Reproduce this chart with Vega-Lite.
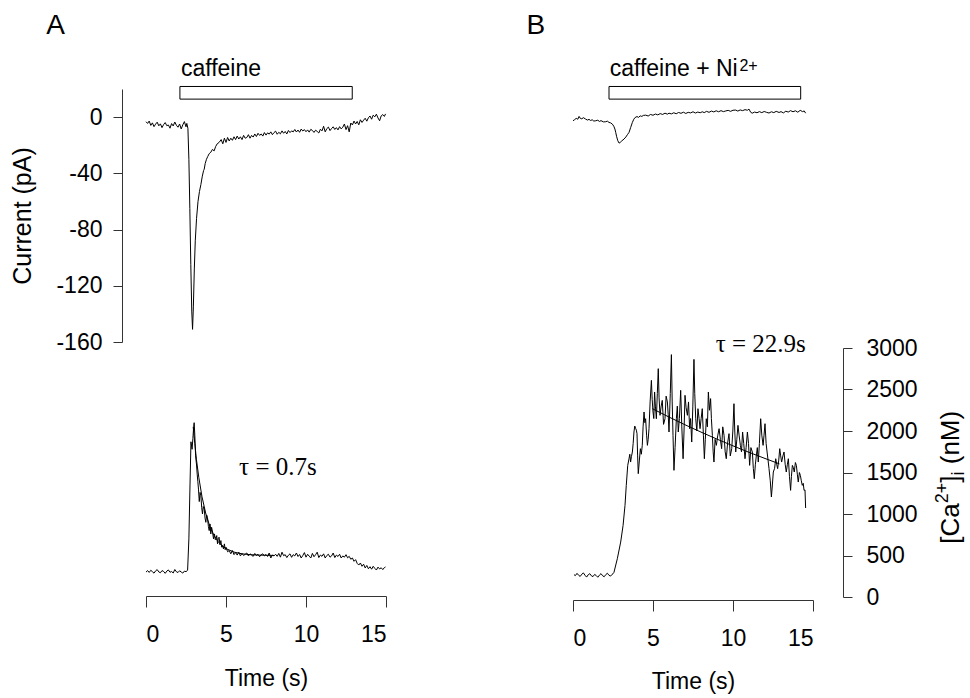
{
  "$schema": "https://vega.github.io/schema/vega-lite/v6.json",
  "autosize": {"type": "pad"},
  "padding": {"left": 10, "top": 12, "right": 4, "bottom": 4},
  "background": "white",
  "config": {
    "view": {"stroke": null},
    "font": "Liberation Sans",
    "axis": {
      "grid": false,
      "domainColor": "#333333",
      "tickColor": "#333333",
      "labelColor": "black",
      "titleColor": "black",
      "labelFontSize": 23,
      "titleFontSize": 23,
      "titleFontWeight": "normal",
      "labelFont": "Liberation Sans",
      "titleFont": "Liberation Sans",
      "domainWidth": 1,
      "tickWidth": 1,
      "labelExpr": "'' + datum.value"
    }
  },
  "datasets": {
    "aCur": [
      {"t":0.0,"v":-3.3},{"t":0.1,"v":-4.5},{"t":0.2,"v":-2.8},{"t":0.3,"v":-5.9},{"t":0.4,"v":-4.1},{"t":0.5,"v":-6.8},{"t":0.6,"v":-5.0},{"t":0.7,"v":-3.6},{"t":0.8,"v":-6.2},{"t":0.9,"v":-4.8},
      {"t":1.0,"v":-7.5},{"t":1.1,"v":-5.3},{"t":1.2,"v":-3.9},{"t":1.3,"v":-6.1},{"t":1.4,"v":-5.6},{"t":1.5,"v":-7.9},{"t":1.6,"v":-4.6},{"t":1.7,"v":-6.3},{"t":1.8,"v":-3.5},{"t":1.9,"v":-5.8},
      {"t":2.0,"v":-7.2},{"t":2.1,"v":-4.9},{"t":2.2,"v":-8.4},{"t":2.3,"v":-5.5},{"t":2.4,"v":-3.2},{"t":2.5,"v":-6.9},{"t":2.55,"v":-4.5},
      {"t":2.62,"v":-8},{"t":2.68,"v":-30},{"t":2.74,"v":-65},{"t":2.8,"v":-105},{"t":2.86,"v":-138},{"t":2.91,"v":-151},{"t":2.96,"v":-135},{"t":3.02,"v":-108},{"t":3.08,"v":-88},
      {"t":3.16,"v":-72},{"t":3.25,"v":-60},{"t":3.34,"v":-53},{"t":3.43,"v":-48},{"t":3.52,"v":-42},{"t":3.6,"v":-38},{"t":3.64,"v":-37},{"t":3.7,"v":-33},{"t":3.78,"v":-30},{"t":3.86,"v":-28},
      {"t":3.95,"v":-26},{"t":4.05,"v":-25},{"t":4.15,"v":-23},{"t":4.26,"v":-24},{"t":4.35,"v":-21},{"t":4.45,"v":-19},{"t":4.57,"v":-18},
      {"t":4.7,"v":-16},{"t":4.8,"v":-19},{"t":4.9,"v":-15},{"t":5.0,"v":-18},{"t":5.1,"v":-14.5},{"t":5.2,"v":-17},{"t":5.3,"v":-15},{"t":5.4,"v":-16.5},{"t":5.5,"v":-14},{"t":5.6,"v":-16},
      {"t":5.7,"v":-13.5},{"t":5.8,"v":-15.6},{"t":5.9,"v":-14},{"t":6.0,"v":-16},{"t":6.1,"v":-13},{"t":6.2,"v":-15},{"t":6.3,"v":-14.5},{"t":6.4,"v":-12.5},{"t":6.5,"v":-15},{"t":6.6,"v":-13},
      {"t":6.7,"v":-14.2},{"t":6.8,"v":-12},{"t":6.9,"v":-13.8},{"t":7.0,"v":-11.5},{"t":7.1,"v":-13},{"t":7.2,"v":-12},{"t":7.3,"v":-13.5},{"t":7.4,"v":-11},{"t":7.5,"v":-12.8},{"t":7.6,"v":-11.2},
      {"t":7.7,"v":-12.1},{"t":7.8,"v":-10.5},{"t":7.9,"v":-12.5},{"t":8.0,"v":-11},{"t":8.1,"v":-10},{"t":8.2,"v":-12.2},{"t":8.3,"v":-10.8},{"t":8.4,"v":-11.9},{"t":8.5,"v":-9.8},{"t":8.6,"v":-11.5},
      {"t":8.7,"v":-10.2},{"t":8.8,"v":-12},{"t":8.9,"v":-9.5},{"t":9.0,"v":-11},{"t":9.1,"v":-9.8},{"t":9.2,"v":-10.5},{"t":9.3,"v":-8.8},{"t":9.4,"v":-10.6},{"t":9.5,"v":-9.2},{"t":9.6,"v":-10.8},
      {"t":9.7,"v":-8.5},{"t":9.8,"v":-9.9},{"t":9.9,"v":-8.9},{"t":10.0,"v":-10.4},{"t":10.1,"v":-9.1},{"t":10.2,"v":-10.7},{"t":10.3,"v":-8.7},{"t":10.4,"v":-9.5},{"t":10.5,"v":-10.9},{"t":10.6,"v":-9.3},
      {"t":10.7,"v":-10.2},{"t":10.8,"v":-11.3},{"t":10.9,"v":-8.6},{"t":11.0,"v":-9.8},{"t":11.1,"v":-6.5},{"t":11.2,"v":-10.5},{"t":11.3,"v":-8.2},{"t":11.4,"v":-7.1},{"t":11.5,"v":-9.6},{"t":11.6,"v":-8.1},
      {"t":11.7,"v":-6.9},{"t":11.8,"v":-8.8},{"t":11.9,"v":-7.5},{"t":12.0,"v":-9.1},{"t":12.1,"v":-6.8},{"t":12.2,"v":-8.4},{"t":12.3,"v":-7.2},{"t":12.4,"v":-4.9},{"t":12.5,"v":-8.9},{"t":12.6,"v":-6.1},
      {"t":12.7,"v":-10.5},{"t":12.8,"v":-4.2},{"t":12.9,"v":-5.6},{"t":13.0,"v":-2.8},{"t":13.1,"v":-4.9},{"t":13.2,"v":-3.1},{"t":13.3,"v":-5.5},{"t":13.4,"v":-1.9},{"t":13.5,"v":-3.8},{"t":13.6,"v":-2.2},
      {"t":13.7,"v":-0.8},{"t":13.8,"v":-2.9},{"t":13.9,"v":-0.5},{"t":14.0,"v":0.8},{"t":14.1,"v":-1.5},{"t":14.2,"v":1.4},{"t":14.3,"v":0.2},{"t":14.4,"v":2.1},{"t":14.5,"v":-0.6},{"t":14.6,"v":-2.6},
      {"t":14.7,"v":0.9},{"t":14.8,"v":1.8},{"t":14.9,"v":0.5},{"t":14.97,"v":2.3}
    ],
    "bCur": [
      {"t":0.0,"v":-2.6},{"t":0.1,"v":-1.8},{"t":0.2,"v":-0.9},{"t":0.3,"v":-1.5},{"t":0.38,"v":0.5},{"t":0.45,"v":-0.8},{"t":0.55,"v":-1.2},{"t":0.65,"v":-0.4},{"t":0.79,"v":-1.4},{"t":0.9,"v":-2.1},
      {"t":1.0,"v":-1.6},{"t":1.1,"v":-2.4},{"t":1.2,"v":-1.9},{"t":1.3,"v":-2.8},{"t":1.42,"v":-2.6},{"t":1.55,"v":-2.2},{"t":1.65,"v":-3.1},{"t":1.75,"v":-2.5},{"t":1.9,"v":-3.4},{"t":2.04,"v":-3.3},
      {"t":2.15,"v":-2.9},{"t":2.25,"v":-3.8},{"t":2.35,"v":-4.1},{"t":2.46,"v":-5.0},{"t":2.55,"v":-6.5},{"t":2.62,"v":-8.5},{"t":2.67,"v":-10.9},{"t":2.73,"v":-14},{"t":2.8,"v":-16.8},{"t":2.88,"v":-18.5},
      {"t":2.95,"v":-18.0},{"t":3.05,"v":-16.9},{"t":3.19,"v":-15.6},{"t":3.3,"v":-14.2},{"t":3.4,"v":-12.5},{"t":3.5,"v":-10.9},{"t":3.6,"v":-7.5},{"t":3.71,"v":-3.8},{"t":3.8,"v":-1.5},{"t":3.88,"v":-0.3},
      {"t":4.0,"v":0.4},{"t":4.1,"v":-0.2},{"t":4.2,"v":0.9},{"t":4.3,"v":0.5},{"t":4.4,"v":1.2},{"t":4.54,"v":1.4},{"t":4.7,"v":0.8},{"t":4.85,"v":1.9},{"t":5.0,"v":1.3},{"t":5.15,"v":2.2},
      {"t":5.3,"v":1.6},{"t":5.45,"v":2.5},{"t":5.6,"v":1.9},{"t":5.75,"v":2.8},{"t":5.9,"v":2.1},{"t":6.0,"v":2.8},{"t":6.15,"v":2.3},{"t":6.3,"v":3.1},{"t":6.45,"v":2.4},{"t":6.6,"v":3.3},
      {"t":6.75,"v":2.7},{"t":6.9,"v":3.5},{"t":7.05,"v":2.6},{"t":7.2,"v":3.4},{"t":7.35,"v":3.0},{"t":7.5,"v":3.8},{"t":7.65,"v":2.9},{"t":7.8,"v":3.6},{"t":7.95,"v":3.1},{"t":8.08,"v":3.8},
      {"t":8.2,"v":3.2},{"t":8.35,"v":4.1},{"t":8.5,"v":3.4},{"t":8.65,"v":4.3},{"t":8.8,"v":3.7},{"t":8.95,"v":4.5},{"t":9.1,"v":3.8},{"t":9.25,"v":4.6},{"t":9.4,"v":3.9},{"t":9.55,"v":4.4},
      {"t":9.7,"v":4.8},{"t":9.85,"v":4.1},{"t":10.0,"v":4.9},{"t":10.17,"v":5.0},{"t":10.3,"v":4.3},{"t":10.45,"v":5.1},{"t":10.6,"v":4.6},{"t":10.75,"v":5.3},{"t":10.9,"v":4.9},{"t":11.0,"v":5.7},
      {"t":11.1,"v":3.5},{"t":11.2,"v":2.8},{"t":11.35,"v":3.6},{"t":11.5,"v":3.1},{"t":11.65,"v":3.9},{"t":11.8,"v":3.2},{"t":11.95,"v":4.0},{"t":12.1,"v":3.4},{"t":12.25,"v":2.9},{"t":12.4,"v":3.8},
      {"t":12.55,"v":3.2},{"t":12.7,"v":4.1},{"t":12.88,"v":3.3},{"t":13.0,"v":3.9},{"t":13.15,"v":3.0},{"t":13.3,"v":4.2},{"t":13.45,"v":3.6},{"t":13.6,"v":4.6},{"t":13.75,"v":3.8},{"t":13.9,"v":4.5},
      {"t":14.05,"v":3.5},{"t":14.2,"v":4.8},{"t":14.35,"v":3.9},{"t":14.45,"v":4.4},{"t":14.54,"v":2.8}
    ],
    "aCa": [
      {"t":0.0,"v":300},{"t":0.1,"v":318},{"t":0.2,"v":296},{"t":0.3,"v":322},{"t":0.4,"v":305},{"t":0.5,"v":287},{"t":0.6,"v":315},{"t":0.7,"v":330},{"t":0.8,"v":302},{"t":0.9,"v":292},
      {"t":1.0,"v":318},{"t":1.1,"v":308},{"t":1.2,"v":285},{"t":1.3,"v":312},{"t":1.4,"v":326},{"t":1.5,"v":298},{"t":1.6,"v":307},{"t":1.7,"v":289},{"t":1.8,"v":331},{"t":1.9,"v":304},
      {"t":2.0,"v":295},{"t":2.1,"v":316},{"t":2.2,"v":301},{"t":2.3,"v":288},{"t":2.4,"v":312},{"t":2.5,"v":305},{"t":2.6,"v":322},
      {"t":2.68,"v":700},{"t":2.75,"v":1350},{"t":2.81,"v":1870},{"t":2.88,"v":1780},{"t":2.93,"v":1910},{"t":2.98,"v":2050},{"t":3.01,"v":2100},{"t":3.05,"v":1950},{"t":3.1,"v":1700},
      {"t":3.16,"v":1590},{"t":3.2,"v":1480},{"t":3.24,"v":1390},{"t":3.28,"v":1300},{"t":3.33,"v":1150},{"t":3.38,"v":1260},{"t":3.43,"v":1220},{"t":3.48,"v":1080},{"t":3.53,"v":1000},{"t":3.58,"v":1090},
      {"t":3.64,"v":1060},{"t":3.69,"v":950},{"t":3.74,"v":900},{"t":3.79,"v":990},{"t":3.84,"v":960},{"t":3.9,"v":850},{"t":3.95,"v":800},{"t":4.0,"v":880},{"t":4.05,"v":760},{"t":4.1,"v":840},
      {"t":4.16,"v":780},{"t":4.22,"v":700},{"t":4.28,"v":760},{"t":4.33,"v":690},{"t":4.37,"v":700},{"t":4.42,"v":740},{"t":4.47,"v":640},{"t":4.52,"v":710},{"t":4.57,"v":720},{"t":4.62,"v":630},
      {"t":4.68,"v":680},{"t":4.73,"v":600},{"t":4.78,"v":620},{"t":4.84,"v":580},{"t":4.9,"v":640},{"t":4.95,"v":570},{"t":5.0,"v":600},{"t":5.1,"v":545},{"t":5.2,"v":560},{"t":5.3,"v":520},
      {"t":5.4,"v":560},{"t":5.5,"v":510},{"t":5.6,"v":535},{"t":5.7,"v":505},{"t":5.8,"v":540},{"t":5.9,"v":495},{"t":6.0,"v":525},{"t":6.1,"v":500},{"t":6.2,"v":515},{"t":6.3,"v":530},
      {"t":6.4,"v":495},{"t":6.5,"v":520},{"t":6.6,"v":505},{"t":6.7,"v":490},{"t":6.8,"v":525},{"t":6.9,"v":500},{"t":7.0,"v":515},{"t":7.1,"v":485},{"t":7.2,"v":510},{"t":7.3,"v":520},
      {"t":7.4,"v":495},{"t":7.5,"v":512},{"t":7.6,"v":488},{"t":7.7,"v":530},{"t":7.8,"v":470},{"t":7.9,"v":505},{"t":8.0,"v":495},{"t":8.1,"v":515},{"t":8.2,"v":490},{"t":8.3,"v":525},
      {"t":8.4,"v":480},{"t":8.5,"v":540},{"t":8.6,"v":498},{"t":8.7,"v":510},{"t":8.8,"v":475},{"t":8.9,"v":503},{"t":9.0,"v":520},{"t":9.1,"v":478},{"t":9.2,"v":510},{"t":9.3,"v":495},
      {"t":9.4,"v":530},{"t":9.5,"v":488},{"t":9.6,"v":512},{"t":9.7,"v":470},{"t":9.8,"v":500},{"t":9.9,"v":535},{"t":10.0,"v":480},{"t":10.1,"v":515},{"t":10.2,"v":492},{"t":10.3,"v":470},
      {"t":10.4,"v":525},{"t":10.5,"v":485},{"t":10.6,"v":510},{"t":10.7,"v":540},{"t":10.8,"v":475},{"t":10.9,"v":505},{"t":11.0,"v":490},{"t":11.1,"v":520},{"t":11.2,"v":470},{"t":11.3,"v":500},
      {"t":11.4,"v":515},{"t":11.5,"v":480},{"t":11.6,"v":495},{"t":11.7,"v":530},{"t":11.8,"v":475},{"t":11.9,"v":505},{"t":12.0,"v":488},{"t":12.1,"v":515},{"t":12.2,"v":470},{"t":12.3,"v":495},
      {"t":12.4,"v":480},{"t":12.5,"v":510},{"t":12.6,"v":472},{"t":12.7,"v":490},{"t":12.8,"v":455},{"t":12.9,"v":470},{"t":13.0,"v":430},{"t":13.1,"v":450},{"t":13.2,"v":405},{"t":13.3,"v":385},
      {"t":13.4,"v":410},{"t":13.5,"v":370},{"t":13.6,"v":395},{"t":13.7,"v":350},{"t":13.8,"v":380},{"t":13.9,"v":340},{"t":14.0,"v":365},{"t":14.1,"v":335},{"t":14.2,"v":370},{"t":14.3,"v":345},
      {"t":14.4,"v":325},{"t":14.5,"v":360},{"t":14.6,"v":338},{"t":14.7,"v":352},{"t":14.8,"v":330},{"t":14.9,"v":355},{"t":14.97,"v":362}
    ],
    "aFit": [
      {"t":2.95,"v":2050},{"t":3.05,"v":1850},{"t":3.15,"v":1660},{"t":3.3,"v":1441},{"t":3.5,"v":1207},{"t":3.75,"v":994},{"t":4.0,"v":846},{"t":4.25,"v":742},{"t":4.5,"v":669},{"t":4.75,"v":618},
      {"t":5.0,"v":583},{"t":5.5,"v":541},{"t":6.0,"v":520},{"t":6.5,"v":510},{"t":7.0,"v":505},{"t":8.0,"v":501}
    ],
    "bCa": [
      {"t":0.06,"v":269},{"t":0.15,"v":258},{"t":0.25,"v":285},{"t":0.35,"v":262},{"t":0.45,"v":248},{"t":0.55,"v":275},{"t":0.65,"v":290},{"t":0.75,"v":262},{"t":0.85,"v":240},{"t":0.95,"v":268},
      {"t":1.05,"v":281},{"t":1.15,"v":255},{"t":1.25,"v":246},{"t":1.35,"v":272},{"t":1.45,"v":259},{"t":1.55,"v":238},{"t":1.65,"v":263},{"t":1.75,"v":282},{"t":1.85,"v":256},{"t":1.95,"v":244},
      {"t":2.05,"v":270},{"t":2.15,"v":286},{"t":2.25,"v":261},{"t":2.35,"v":252},{"t":2.42,"v":269},{"t":2.5,"v":280},
      {"t":2.56,"v":297},{"t":2.77,"v":461},{"t":2.98,"v":662},{"t":3.13,"v":863},{"t":3.25,"v":1104},{"t":3.33,"v":1345},{"t":3.42,"v":1586},
      {"t":3.5,"v":1666},{"t":3.55,"v":1720},{"t":3.6,"v":1626},{"t":3.65,"v":1690},{"t":3.71,"v":1747},{"t":3.76,"v":1850},{"t":3.81,"v":1988},{"t":3.86,"v":2060},{"t":3.92,"v":2028},{"t":3.96,"v":2010},
      {"t":4.0,"v":1968},{"t":4.04,"v":1700},{"t":4.08,"v":1486},{"t":4.15,"v":1650},{"t":4.21,"v":1787},{"t":4.27,"v":1720},{"t":4.33,"v":1827},{"t":4.38,"v":2050},{"t":4.44,"v":2229},{"t":4.49,"v":2100},
      {"t":4.54,"v":2148},{"t":4.6,"v":1950},{"t":4.65,"v":1827},{"t":4.7,"v":1900},{"t":4.75,"v":2028},{"t":4.82,"v":2350},{"t":4.9,"v":2610},{"t":4.95,"v":2380},{"t":5.0,"v":2229},{"t":5.05,"v":2150},
      {"t":5.1,"v":2470},{"t":5.15,"v":2300},{"t":5.21,"v":2148},{"t":5.27,"v":2450},{"t":5.33,"v":2751},{"t":5.38,"v":2400},{"t":5.44,"v":2189},{"t":5.51,"v":2300},{"t":5.58,"v":2369},{"t":5.66,"v":2080},
      {"t":5.75,"v":2148},{"t":5.82,"v":2420},{"t":5.9,"v":2349},{"t":5.95,"v":2200},{"t":6.0,"v":1988},{"t":6.08,"v":2450},{"t":6.15,"v":2920},{"t":6.2,"v":2350},{"t":6.25,"v":1948},{"t":6.31,"v":1526},
      {"t":6.38,"v":1800},{"t":6.46,"v":2148},{"t":6.52,"v":2300},{"t":6.58,"v":1988},{"t":6.65,"v":2150},{"t":6.73,"v":2490},{"t":6.8,"v":2050},{"t":6.88,"v":1666},{"t":6.94,"v":2000},{"t":7.0,"v":2430},
      {"t":7.07,"v":2280},{"t":7.15,"v":2189},{"t":7.22,"v":2350},{"t":7.29,"v":2028},{"t":7.35,"v":2150},{"t":7.42,"v":1867},{"t":7.49,"v":2300},{"t":7.56,"v":2863},{"t":7.61,"v":2450},{"t":7.67,"v":2148},
      {"t":7.74,"v":2000},{"t":7.81,"v":2269},{"t":7.88,"v":2150},{"t":7.94,"v":2028},{"t":8.01,"v":2150},{"t":8.08,"v":2269},{"t":8.15,"v":1950},{"t":8.21,"v":1666},{"t":8.27,"v":1900},{"t":8.33,"v":2148},
      {"t":8.4,"v":2050},{"t":8.46,"v":2470},{"t":8.53,"v":2250},{"t":8.6,"v":2390},{"t":8.65,"v":2150},{"t":8.71,"v":1948},{"t":8.76,"v":1750},{"t":8.81,"v":1626},{"t":8.88,"v":1900},{"t":8.96,"v":1827},
      {"t":9.05,"v":1950},{"t":9.13,"v":2028},{"t":9.21,"v":1900},{"t":9.29,"v":1787},{"t":9.36,"v":2050},{"t":9.44,"v":1948},{"t":9.51,"v":1750},{"t":9.58,"v":1666},{"t":9.66,"v":1850},{"t":9.75,"v":1968},
      {"t":9.83,"v":1700},{"t":9.92,"v":1787},{"t":9.99,"v":2000},{"t":10.06,"v":2329},{"t":10.11,"v":2000},{"t":10.17,"v":1747},{"t":10.24,"v":1900},{"t":10.31,"v":2068},{"t":10.38,"v":1950},{"t":10.46,"v":1827},
      {"t":10.53,"v":1750},{"t":10.6,"v":1988},{"t":10.67,"v":1850},{"t":10.75,"v":1666},{"t":10.82,"v":1800},{"t":10.9,"v":1988},{"t":10.97,"v":1850},{"t":11.04,"v":1586},{"t":11.12,"v":1800},{"t":11.21,"v":1747},
      {"t":11.27,"v":1550},{"t":11.33,"v":1425},{"t":11.4,"v":1600},{"t":11.46,"v":1707},{"t":11.52,"v":1800},{"t":11.58,"v":1626},{"t":11.65,"v":1850},{"t":11.73,"v":2148},{"t":11.8,"v":1950},{"t":11.88,"v":1827},
      {"t":11.94,"v":1950},{"t":12.0,"v":2088},{"t":12.07,"v":1850},{"t":12.13,"v":1747},{"t":12.19,"v":1650},{"t":12.25,"v":1546},{"t":12.33,"v":1400},{"t":12.4,"v":1205},{"t":12.46,"v":1350},{"t":12.52,"v":1506},
      {"t":12.6,"v":1550},{"t":12.67,"v":1666},{"t":12.73,"v":1600},{"t":12.79,"v":1546},{"t":12.86,"v":1650},{"t":12.92,"v":1787},{"t":12.98,"v":1700},{"t":13.04,"v":1626},{"t":13.12,"v":1700},{"t":13.19,"v":1747},
      {"t":13.26,"v":1600},{"t":13.33,"v":1506},{"t":13.4,"v":1600},{"t":13.46,"v":1666},{"t":13.53,"v":1450},{"t":13.6,"v":1285},{"t":13.65,"v":1450},{"t":13.71,"v":1586},{"t":13.77,"v":1560},{"t":13.83,"v":1506},
      {"t":13.9,"v":1620},{"t":13.96,"v":1586},{"t":14.02,"v":1480},{"t":14.08,"v":1385},{"t":14.15,"v":1500},{"t":14.21,"v":1465},{"t":14.27,"v":1400},{"t":14.33,"v":1345},{"t":14.39,"v":1370},{"t":14.44,"v":1285},
      {"t":14.5,"v":1290},{"t":14.54,"v":1072}
    ],
    "bFit": [
      {"t":4.96,"v":2269},{"t":6.0,"v":2168},{"t":7.0,"v":2075},{"t":8.0,"v":1987},{"t":9.0,"v":1902},{"t":10.0,"v":1821},{"t":11.0,"v":1743},{"t":12.0,"v":1669},{"t":12.9,"v":1604}
    ],
    "bars": [
      {"panel":"A","t":2.12,"t2":12.89,"v":12.8,"v2":21.8},
      {"panel":"B","t":2.25,"t2":14.23,"v":12.8,"v2":21.8}
    ],
    "panelLabels": [
      {"panel":"A","t":-6.24,"v":59,"text":"A"},
      {"panel":"B","t":-2.9,"v":59,"text":"B"}
    ],
    "barLabels": [
      {"panel":"A","t":2.18,"v":29.4,"text":"caffeine"},
      {"panel":"B","t":2.29,"v":28.9,"text":"caffeine + Ni"}
    ],
    "supLabels": [
      {"panel":"B","t":10.4,"v":33,"text":"2+"}
    ],
    "tauLabels": [
      {"panel":"A","t":5.82,"v":1473,"text":"τ = 0.7s"},
      {"panel":"B","t":8.92,"v":2955,"text":"τ = 22.9s"}
    ],
    "caTitle": [
      {"kind":"main","t":24.14,"v":642,"text":"[Ca"},
      {"kind":"small","t":23.46,"v":1130,"text":"2+"},
      {"kind":"main","t":24.14,"v":1377,"text":"]"},
      {"kind":"small","t":24.43,"v":1464,"text":"i"},
      {"kind":"main","t":24.14,"v":1599,"text":"(nM)"}
    ]
  },
  "columns": 2,
  "spacing": {"row": 6, "column": 187},
  "bounds": "flush",
  "concat": [
    {
      "width": 240,
      "height": 253,
      "encoding": {
        "x": {"field": "t", "type": "quantitative", "scale": {"domain": [0, 15], "nice": false, "zero": false}, "axis": null},
        "y": {"field": "v", "type": "quantitative", "scale": {"domain": [-160, 20], "nice": false, "zero": false},
              "axis": {"orient": "left", "values": [0, -40, -80, -120, -160], "offset": 24, "tickSize": 9, "labelPadding": 11, "title": "Current (pA)", "titlePadding": 20, "titleFontSize": 25}}
      },
      "layer": [
        {"data": {"name": "bars"}, "transform": [{"filter": "datum.panel === 'A'"}],
         "mark": {"type": "rect", "fill": "white", "stroke": "black", "strokeWidth": 1},
         "encoding": {"x2": {"field": "t2"}, "y2": {"field": "v2"}}},
        {"data": {"name": "aCur"}, "mark": {"type": "line", "color": "black", "strokeWidth": 1}},
        {"data": {"name": "panelLabels"}, "transform": [{"filter": "datum.panel === 'A'"}],
         "mark": {"type": "text", "align": "left", "baseline": "alphabetic", "fontSize": 28, "color": "black"},
         "encoding": {"text": {"field": "text"}}},
        {"data": {"name": "barLabels"}, "transform": [{"filter": "datum.panel === 'A'"}],
         "mark": {"type": "text", "align": "left", "baseline": "alphabetic", "fontSize": 23, "color": "black"},
         "encoding": {"text": {"field": "text"}}}
      ]
    },
    {
      "width": 240,
      "height": 253,
      "encoding": {
        "x": {"field": "t", "type": "quantitative", "scale": {"domain": [0, 15], "nice": false, "zero": false}, "axis": null},
        "y": {"field": "v", "type": "quantitative", "scale": {"domain": [-160, 20], "nice": false, "zero": false}, "axis": null}
      },
      "layer": [
        {"data": {"name": "bars"}, "transform": [{"filter": "datum.panel === 'B'"}],
         "mark": {"type": "rect", "fill": "white", "stroke": "black", "strokeWidth": 1},
         "encoding": {"x2": {"field": "t2"}, "y2": {"field": "v2"}}},
        {"data": {"name": "bCur"}, "mark": {"type": "line", "color": "black", "strokeWidth": 1}},
        {"data": {"name": "panelLabels"}, "transform": [{"filter": "datum.panel === 'B'"}],
         "mark": {"type": "text", "align": "left", "baseline": "alphabetic", "fontSize": 28, "color": "black"},
         "encoding": {"text": {"field": "text"}}},
        {"data": {"name": "barLabels"}, "transform": [{"filter": "datum.panel === 'B'"}],
         "mark": {"type": "text", "align": "left", "baseline": "alphabetic", "fontSize": 23, "color": "black"},
         "encoding": {"text": {"field": "text"}}},
        {"data": {"name": "supLabels"},
         "mark": {"type": "text", "align": "left", "baseline": "alphabetic", "fontSize": 16, "color": "black"},
         "encoding": {"text": {"field": "text"}}}
      ]
    },
    {
      "width": 240,
      "height": 249,
      "encoding": {
        "x": {"field": "t", "type": "quantitative", "scale": {"domain": [0, 15], "nice": false, "zero": false},
              "axis": {"orient": "bottom", "values": [0, 5, 10, 15], "offset": -1, "tickSize": 11, "labelPadding": 16, "title": "Time (s)", "titlePadding": 21}},
        "y": {"field": "v", "type": "quantitative", "scale": {"domain": [0, 3000], "nice": false, "zero": false}, "axis": null}
      },
      "layer": [
        {"data": {"name": "aCa"}, "mark": {"type": "line", "color": "black", "strokeWidth": 1}},
        {"data": {"name": "aFit"}, "mark": {"type": "line", "color": "black", "strokeWidth": 1}},
        {"data": {"name": "tauLabels"}, "transform": [{"filter": "datum.panel === 'A'"}],
         "mark": {"type": "text", "align": "left", "baseline": "alphabetic", "fontSize": 25, "font": "Liberation Serif", "color": "black"},
         "encoding": {"text": {"field": "text"}}}
      ]
    },
    {
      "width": 240,
      "height": 249,
      "encoding": {
        "x": {"field": "t", "type": "quantitative", "scale": {"domain": [0, 15], "nice": false, "zero": false},
              "axis": {"orient": "bottom", "values": [0, 5, 10, 15], "offset": 3, "tickSize": 11, "labelPadding": 16, "title": "Time (s)", "titlePadding": 20}},
        "y": {"field": "v", "type": "quantitative", "scale": {"domain": [0, 3000], "nice": false, "zero": false},
              "axis": {"orient": "right", "values": [0, 500, 1000, 1500, 2000, 2500, 3000], "offset": 30, "tickSize": 9, "labelPadding": 14, "title": null}}
      },
      "layer": [
        {"data": {"name": "bCa"}, "mark": {"type": "line", "color": "black", "strokeWidth": 1}},
        {"data": {"name": "bFit"}, "mark": {"type": "line", "color": "black", "strokeWidth": 1}},
        {"data": {"name": "tauLabels"}, "transform": [{"filter": "datum.panel === 'B'"}],
         "mark": {"type": "text", "align": "left", "baseline": "alphabetic", "fontSize": 25, "font": "Liberation Serif", "color": "black"},
         "encoding": {"text": {"field": "text"}}},
        {"data": {"name": "caTitle"}, "transform": [{"filter": "datum.kind === 'main'"}],
         "mark": {"type": "text", "align": "left", "baseline": "alphabetic", "angle": 270, "fontSize": 26, "color": "black"},
         "encoding": {"text": {"field": "text"}}},
        {"data": {"name": "caTitle"}, "transform": [{"filter": "datum.kind === 'small'"}],
         "mark": {"type": "text", "align": "left", "baseline": "alphabetic", "angle": 270, "fontSize": 18, "color": "black"},
         "encoding": {"text": {"field": "text"}}}
      ]
    }
  ]
}
